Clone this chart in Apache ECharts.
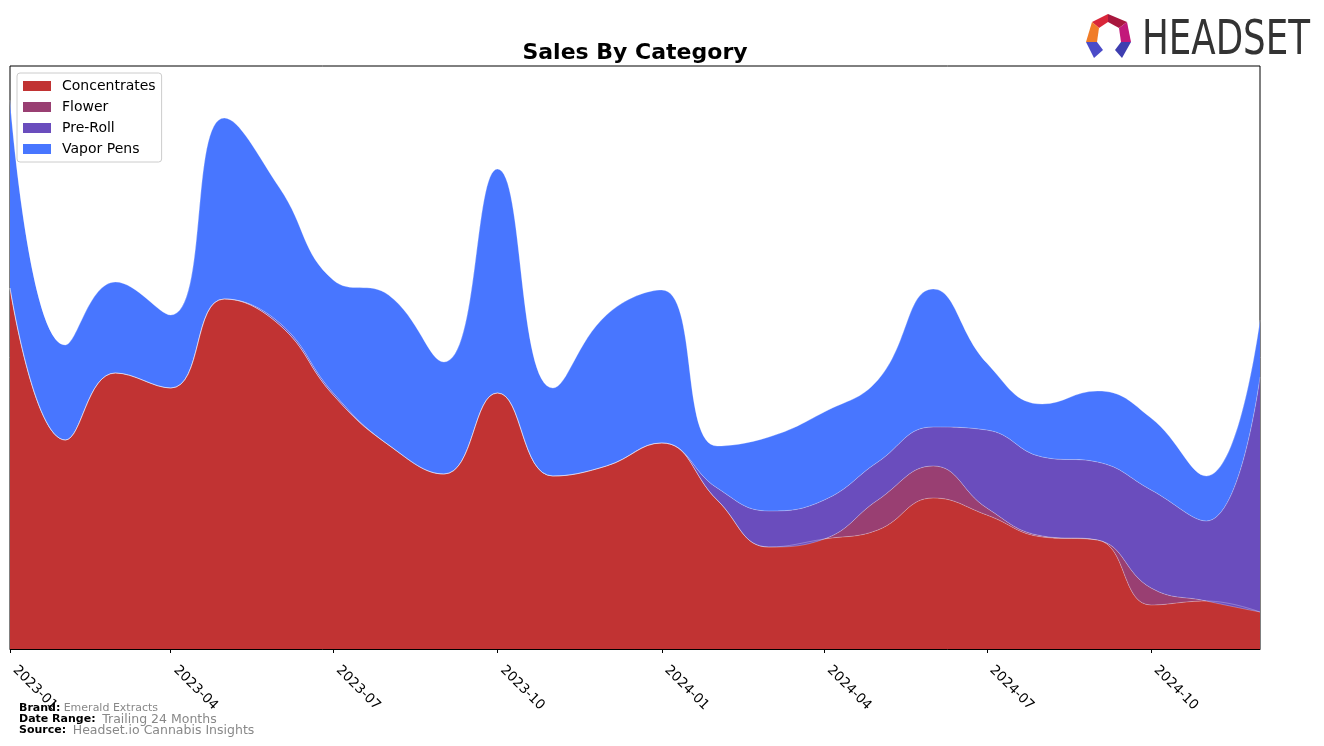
<!DOCTYPE html>
<html>
<head>
<meta charset="utf-8">
<script src="https://cdn.jsdelivr.net/npm/echarts@6/dist/echarts.min.js"></script>
<style>
html,body{margin:0;padding:0;background:#fff;}
#chart{width:1324px;height:746px;}
</style>
</head>
<body>
<div id="chart"></div>
<script>
const months = ['2023-01','2023-02','2023-03','2023-04','2023-05','2023-06','2023-07','2023-08','2023-09','2023-10','2023-11','2023-12',
                '2024-01','2024-02','2024-03','2024-04','2024-05','2024-06','2024-07','2024-08','2024-09','2024-10','2024-11','2024-12'];
const concentrates = [361,209,276,261,350,324,254,204,175,256,173,183,206,149,102,110,119,151,134,112,109,44,48,37];
const flower       = [0,0,0,0,0,0,0,0,0,0,0,0,0,0,0,0,30,32,7,1,0,17,0,0];
const preRoll      = [0,0,0,0,0,2,2,0,0,0,0,0,0,12,36,39,38,39,78,79,78,98,80,235];
const vaporPens    = [188,95,91,73,181,135,113,150,112,224,88,151,153,42,74,88,82,138,67,53,71,72,45,57];
const tickMonths = ['2023-01','2023-04','2023-07','2023-10','2024-01','2024-04','2024-07','2024-10'];
const seriesNames = ['Concentrates','Flower','Pre-Roll','Vapor Pens'];
const colors = ['#C13333','#993F72','#6A4DBD','#4876FF'];

function ts(m){ const p = m.split('-'); return Date.UTC(+p[0], +p[1]-1, 1); }
function fmt(v){ const d = new Date(v); return d.getUTCFullYear() + '-' + String(d.getUTCMonth()+1).padStart(2,'0'); }
const DAY = 86400000;

const chart = echarts.init(document.getElementById('chart'));
const values = [concentrates, flower, preRoll, vaporPens];
const series = seriesNames.map((name, k) => ({
  name: name,
  type: 'line',
  stack: 'total',
  smooth: 0.45,
  symbol: 'none',
  data: months.map((m, i) => [ts(m), values[k][i]]),
  lineStyle: {width: 0.8, color: 'rgba(255,255,255,0.35)'},
  itemStyle: {color: colors[k]},
  areaStyle: {color: colors[k], opacity: 1}
}));

chart.setOption({
  animation: false,
  useUTC: true,
  textStyle: {fontFamily: 'DejaVu Sans'},
  color: colors,
  grid: {left: 10, right: 64, top: 66, bottom: 97, show: true, borderColor: '#000', borderWidth: 1, backgroundColor: 'transparent'},
  legend: {
    data: seriesNames,
    orient: 'vertical',
    left: 17, top: 73,
    icon: 'rect', itemWidth: 28, itemHeight: 10, itemGap: 7,
    padding: [6, 6, 6, 6],
    backgroundColor: '#fff',
    borderColor: '#ccc', borderWidth: 1, borderRadius: 3,
    textStyle: {fontSize: 14, color: '#000', padding: [0, 0, 0, 6], fontFamily: 'DejaVu Sans'}
  },
  xAxis: {
    type: 'time',
    min: ts(months[0]), max: ts(months[months.length-1]),
    minInterval: 80 * DAY, maxInterval: 100 * DAY,
    axisLine: {show: true, onZero: false, lineStyle: {color: '#000', width: 1}},
    axisTick: {show: true, length: 4, lineStyle: {color: '#000'}},
    axisLabel: {
      rotate: -45, fontSize: 13.5, color: '#000', margin: 24, fontFamily: 'DejaVu Sans',
      verticalAlign: 'bottom',
      hideOverlap: false,
      formatter: v => fmt(v)
    },
    splitLine: {show: false}
  },
  yAxis: {type: 'value', min: 0, max: 583, show: false, splitLine: {show: false}},
  series: series,
  graphic: [
    {type: 'text', x: 635, y: 42, z: 10, style: {text: 'Sales By Category', fontSize: 22, fontWeight: 'bold', fill: '#000', textAlign: 'center', fontFamily: 'DejaVu Sans'}},
    {type: 'text', x: 19, y: 702, style: {text: '{b|Brand:} {v|Emerald Extracts}', rich: {b: {fontSize: 11, fontWeight: 'bold', fill: '#000', fontFamily: 'DejaVu Sans'}, v: {fontSize: 11, fill: '#888', fontFamily: 'DejaVu Sans'}}}},
    {type: 'text', x: 19, y: 713, style: {text: '{b|Date Range:}  {v|Trailing 24 Months}', rich: {b: {fontSize: 11, fontWeight: 'bold', fill: '#000', fontFamily: 'DejaVu Sans'}, v: {fontSize: 12.5, fill: '#888', fontFamily: 'DejaVu Sans'}}}},
    {type: 'text', x: 19, y: 724, style: {text: '{b|Source:}  {v|Headset.io Cannabis Insights}', rich: {b: {fontSize: 11, fontWeight: 'bold', fill: '#000', fontFamily: 'DejaVu Sans'}, v: {fontSize: 12.5, fill: '#888', fontFamily: 'DejaVu Sans'}}}},
    {type: 'polygon', shape: {points: [[1092,22],[1108,14],[1108,22],[1099,28]]}, style: {fill: '#D9263A'}},
    {type: 'polygon', shape: {points: [[1108,14],[1127,22],[1119,28],[1108,22]]}, style: {fill: '#A8173E'}},
    {type: 'polygon', shape: {points: [[1092,22],[1099,28],[1097,42],[1086,42]]}, style: {fill: '#F07C28'}},
    {type: 'polygon', shape: {points: [[1127,22],[1131,42],[1121,42],[1119,28]]}, style: {fill: '#C2187A'}},
    {type: 'polygon', shape: {points: [[1086,42],[1097,42],[1103,50],[1094,58]]}, style: {fill: '#4B4BC8'}},
    {type: 'polygon', shape: {points: [[1121,42],[1131,42],[1122,58],[1115,50]]}, style: {fill: '#3E3EB0'}},
    {type: 'text', x: 1142, y: 18, scaleX: 0.825, style: {text: 'HEADSET', fontSize: 48, fill: '#333', fontFamily: 'DejaVu Sans Condensed'}}
  ]
});
</script>
</body>
</html>
